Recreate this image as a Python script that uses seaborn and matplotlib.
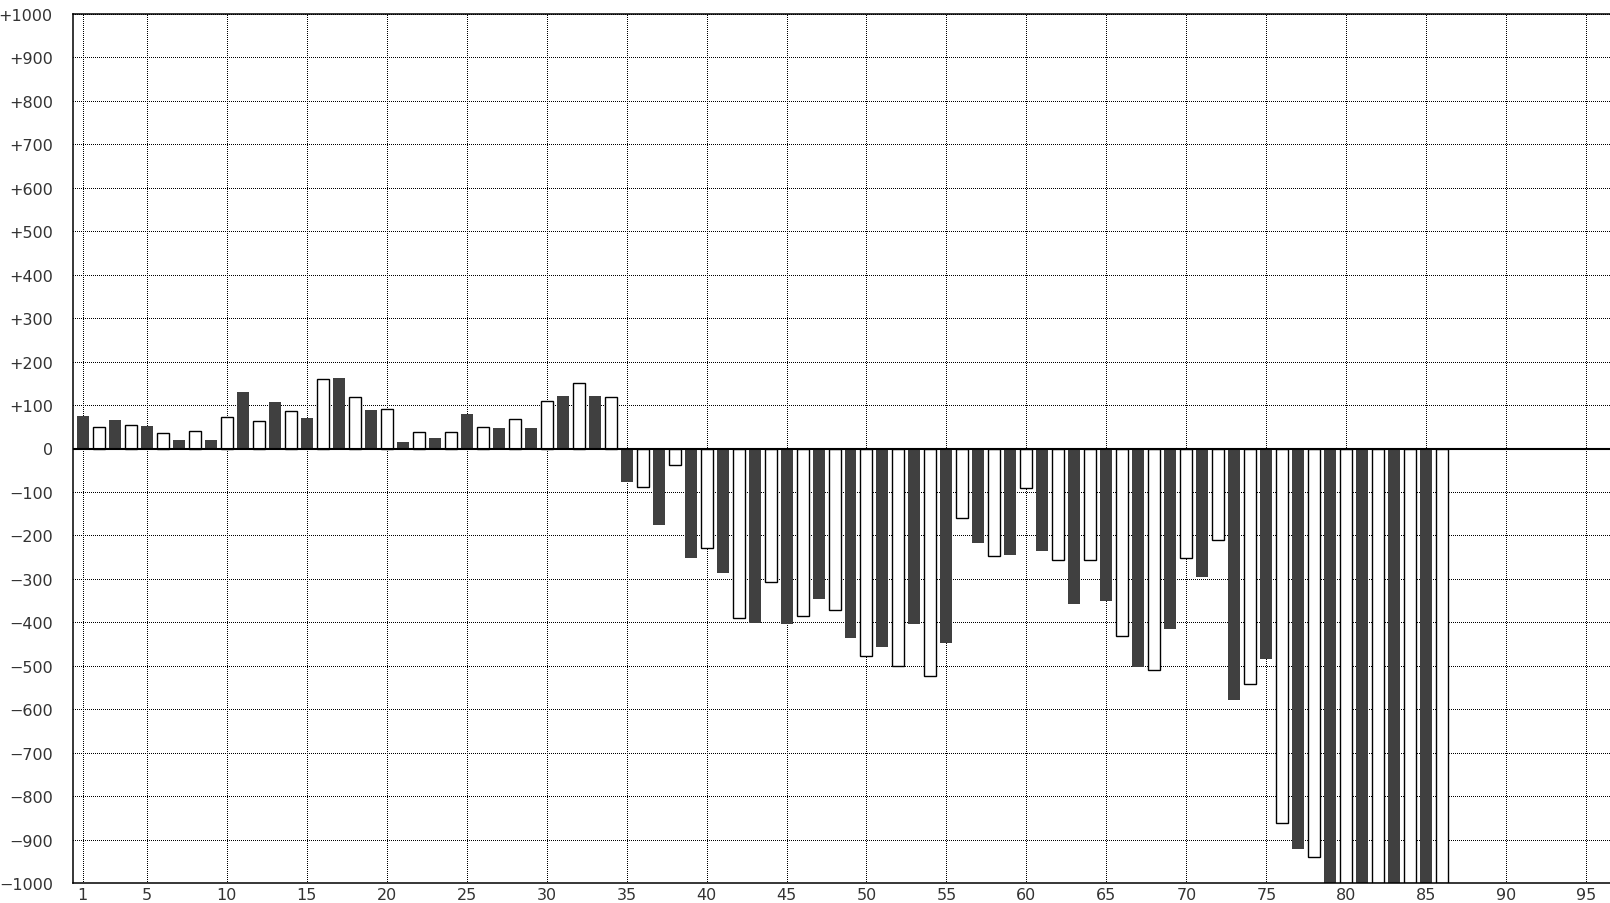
import numpy as np
import pandas as pd
import matplotlib
matplotlib.use("Agg")
import matplotlib.pyplot as plt
import seaborn as sns

# valores (barras 1..86, las 79-86 se salen por abajo)
posiciones = list(range(1, 87))
valores = [
    74, 50, 65, 55, 51, 36, 19, 41, 19, 73,
    130, 64, 107, 87, 70, 160, 162, 119, 88, 92,
    15, 37, 24, 37, 79, 50, 47, 68, 47, 110,
    120, 151, 120, 119, -76, -88, -176, -37, -253, -230,
    -286, -390, -401, -308, -405, -385, -346, -372, -437, -477,
    -456, -500, -405, -523, -447, -161, -218, -248, -245, -92,
    -236, -257, -359, -257, -350, -431, -502, -509, -415, -253,
    -295, -211, -579, -541, -485, -861, -921, -941, -1000, -1000,
    -1000, -1000, -1000, -1000, -1000, -1000,
]
tipo = ["oscuro" if p % 2 == 1 else "claro" for p in posiciones]

xticks = [1, 5, 10, 15, 20, 25, 30, 35, 40, 45, 50, 55, 60, 65, 70, 75, 80, 85, 90, 95]
yticks = list(range(1000, -1001, -100))
ylabels = ["+" + str(v) if v > 0 else ("0" if v == 0 else "\u2212" + str(-v)) for v in yticks]

df = pd.DataFrame({"pos": posiciones, "valor": valores, "tipo": tipo})

sns.set_theme(style="white")
plt.rcParams["font.family"] = ["DejaVu Sans"]

fig = plt.figure(figsize=(16.1, 9.04), dpi=100)
ax = fig.add_axes([73 / 1610, 20 / 904, 1547 / 1610, 869 / 904])

sns.barplot(data=df, x="pos", y="valor", hue="tipo", native_scale=True,
            palette={"oscuro": "#404040", "claro": "white"}, width=0.75,
            errorbar=None, legend=False, saturation=1, ax=ax)

for bar in ax.patches:
    fc = bar.get_facecolor()
    if fc[0] > 0.9:
        bar.set_edgecolor("black")
        bar.set_linewidth(1.0)
    else:
        bar.set_edgecolor("none")
        bar.set_linewidth(0)

ax.set_xlim(0.4, 97.1)
ax.set_ylim(-1000, 1000)
ax.set_xticks(xticks)
ax.set_xticklabels([str(t) for t in xticks])
ax.set_yticks(yticks)
ax.set_yticklabels(ylabels)
ax.set_xlabel("")
ax.set_ylabel("")

# rejilla punteada nitida (sin antialias)
ax.set_axisbelow(True)
ax.grid(True, color="black", linestyle=(0, (1, 1.4)), linewidth=0.72,
        antialiased=False)
ax.axhline(0, color="black", linewidth=1.5, zorder=3)

for s in ["left", "top", "bottom", "right"]:
    ax.spines[s].set_color("black")
    ax.spines[s].set_linewidth(1.1)

ax.tick_params(axis="both", length=0, labelsize=11.5, colors="#333333")
ax.tick_params(axis="y", pad=14.5)
ax.tick_params(axis="x", pad=3)

fig.savefig("out.png", dpi=100)
